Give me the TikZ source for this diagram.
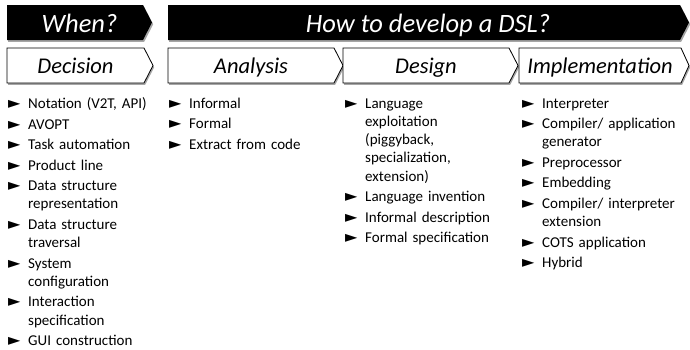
\documentclass[tikz,border=0pt]{standalone}
\usepackage{fontspec}
\setmainfont{Carlito}
\newfontfamily\symfont{DejaVu Sans}
\usetikzlibrary{shadows}
\newcommand\bul{{\symfont\fontsize{16}{16}\selectfont ►}}
\newcommand\itm[1]{\par\hangindent=20pt\hangafter=1\noindent\makebox[20pt][l]{\bul}#1}
\tikzset{
  shad/.style={drop shadow={shadow xshift=1.2pt,shadow yshift=-1.8pt,fill=black,opacity=.35}},
  blk/.style={fill=black,shad},
  wht/.style={draw=black,fill=white,line width=0.8pt,line join=miter,shad},
  htitle/.style={font=\fontsize{26.5}{30}\selectfont\itshape,text=white,anchor=base,inner sep=0pt},
  ptitle/.style={font=\fontsize{22.5}{26}\selectfont\itshape,anchor=base,inner sep=0pt},
  col/.style={anchor=base west,inner sep=0pt,text width=#1,
    font=\fontsize{15}{18.3}\selectfont}
}
\newcommand\colbody[1]{\raggedright\setlength\parskip{2.2pt}#1}
\begin{document}
\begin{tikzpicture}[x=1pt,y=-1pt]
\useasboundingbox (0,0) rectangle (690,349);
% top row
\path[blk] (7,5) -- (143,5) -- (152,22.5) -- (143,40) -- (7,40) -- cycle;
\node[htitle] (when) at (79.5,32) {When?};
\path[blk] (168,5) -- (680,5) -- (689,22.5) -- (680,40) -- (168,40) -- cycle;
\node[htitle] (how) at (428,32) {How to develop a DSL?};
% second row
\draw[wht] (7,48) -- (144,48) -- (153,65.5) -- (144,83) -- (7,83) -- cycle;
\node[ptitle] (dec) at (75.5,73) {Decision};
\draw[wht] (168,48) -- (334,48) -- (343,65.5) -- (334,83) -- (168,83) -- cycle;
\node[ptitle] (ana) at (251,73) {Analysis};
\draw[wht] (343,48) -- (509,48) -- (518,65.5) -- (509,83) -- (343,83) -- cycle;
\node[ptitle] (des) at (426,73) {Design};
\draw[wht] (519,48) -- (681,48) -- (689,65.5) -- (681,83) -- (519,83) -- cycle;
\node[ptitle] (imp) at (600,73) {Implementation};
% columns
\node[col=144pt] (decl) at (8,88) {\colbody{%
\itm{Notation (V2T, API)}
\itm{AVOPT}
\itm{Task automation}
\itm{Product line}
\itm{Data structure representation}
\itm{Data structure traversal}
\itm{System configuration}
\itm{Interaction specification}
\itm{GUI construction}}};
\node[col=160pt] (anal) at (169,87.5) {\colbody{%
\itm{Informal}
\itm{Formal}
\itm{Extract from code}}};
\node[col=149pt] (desl) at (345,87.5) {\colbody{%
\itm{Language exploitation (piggyback, specialization, extension)}
\itm{Language invention}
\itm{Informal description}
\itm{Formal specification}}};
\node[col=160pt] (impl) at (522,87.5) {\colbody{%
\itm{Interpreter}
\itm{Compiler/ application generator}
\itm{Preprocessor}
\itm{Embedding}
\itm{Compiler/ interpreter extension}
\itm{COTS application}
\itm{Hybrid}}};
\end{tikzpicture}
\end{document}
